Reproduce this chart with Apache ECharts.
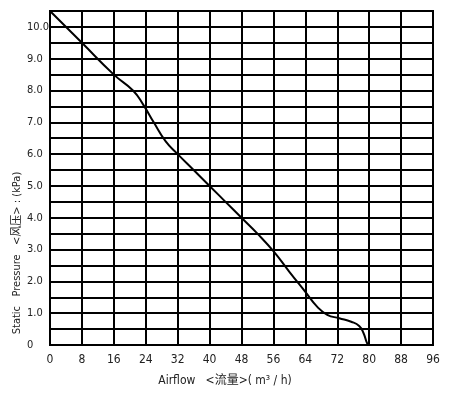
<!DOCTYPE html>
<html>
<head>
<meta charset="utf-8">
<script src="https://cdn.jsdelivr.net/npm/echarts@6/dist/echarts.min.js"></script>
<style>html,body{margin:0;padding:0;background:#fff}#c{width:451px;height:393px}</style>
</head>
<body>
<div id="c"></div>
<script>
var airflow = [0, 8, 16, 20.8, 23.4, 26, 29, 32, 36, 40, 44, 48, 52, 56, 60, 64, 67, 69.5, 72.5, 75.5, 77.5, 78.6, 79.5, 80];
var pressure = [10.5, 9.5, 8.5, 8.0, 7.55, 7.0, 6.4, 6.0, 5.5, 5.0, 4.5, 4.0, 3.5, 2.95, 2.3, 1.67, 1.2, 0.95, 0.84, 0.73, 0.6, 0.37, 0.05, 0];
var xTicks = [0, 8, 16, 24, 32, 40, 48, 56, 64, 72, 80, 88, 96];
var yTickLabels = {"0": "0", "1": "1.0", "2": "2.0", "3": "3.0", "4": "4.0", "5": "5.0", "6": "6.0", "7": "7.0", "8": "8.0", "9": "9.0", "10": "10.0"};
var xTitle = "Airflow   <流量>( m³ / h)";
var yTitle = "Static   Pressure   <风压> : (kPa)";

var font = "'DejaVu Sans Condensed', 'Liberation Sans Narrow', 'Noto Sans CJK SC', sans-serif";
var chart = echarts.init(document.getElementById('c'), null, {renderer: 'canvas'});
chart.setOption({
  backgroundColor: '#fff',
  animation: false,
  grid: {left: 50, top: 11, right: 18, bottom: 48},
  xAxis: {
    type: 'value', min: xTicks[0], max: xTicks[xTicks.length - 1], interval: 8,
    axisLine: {show: true, lineStyle: {color: '#000', width: 2}},
    axisTick: {show: false},
    axisLabel: {color: '#222', fontSize: 12, fontFamily: font, margin: 9,
      formatter: function (v) { return xTicks.indexOf(v) >= 0 ? String(v) : ''; }},
    splitLine: {show: true, lineStyle: {color: '#000', width: 2}}
  },
  yAxis: {
    type: 'value', min: 0, max: 10.5, interval: 0.5,
    axisLine: {show: true, lineStyle: {color: '#000', width: 2}},
    axisTick: {show: false},
    axisLabel: {color: '#222', fontSize: 11, fontFamily: font, align: 'left', margin: 23,
      formatter: function (v) { var k = String(v); return yTickLabels.hasOwnProperty(k) ? yTickLabels[k] : ''; }},
    splitLine: {show: true, lineStyle: {color: '#000', width: 2}}
  },
  graphic: [
    {type: 'rect', shape: {x: 50, y: 11, width: 383, height: 334}, style: {fill: 'none', stroke: '#000', lineWidth: 2}, z: 10},
    {type: 'text', x: 225, y: 381, style: {text: xTitle, font: "12px " + font, fill: '#222', align: 'center', verticalAlign: 'middle'}},
    {type: 'text', x: 17, y: 253, rotation: Math.PI / 2, style: {text: yTitle, font: "11px " + font, fill: '#222', align: 'center', verticalAlign: 'middle'}}
  ],
  series: [{
    type: 'line',
    data: airflow.map(function (x, i) { return [x, pressure[i]]; }),
    smooth: 0.5,
    showSymbol: false,
    lineStyle: {color: '#000', width: 2},
    z: 5
  }]
});
</script>
</body>
</html>
